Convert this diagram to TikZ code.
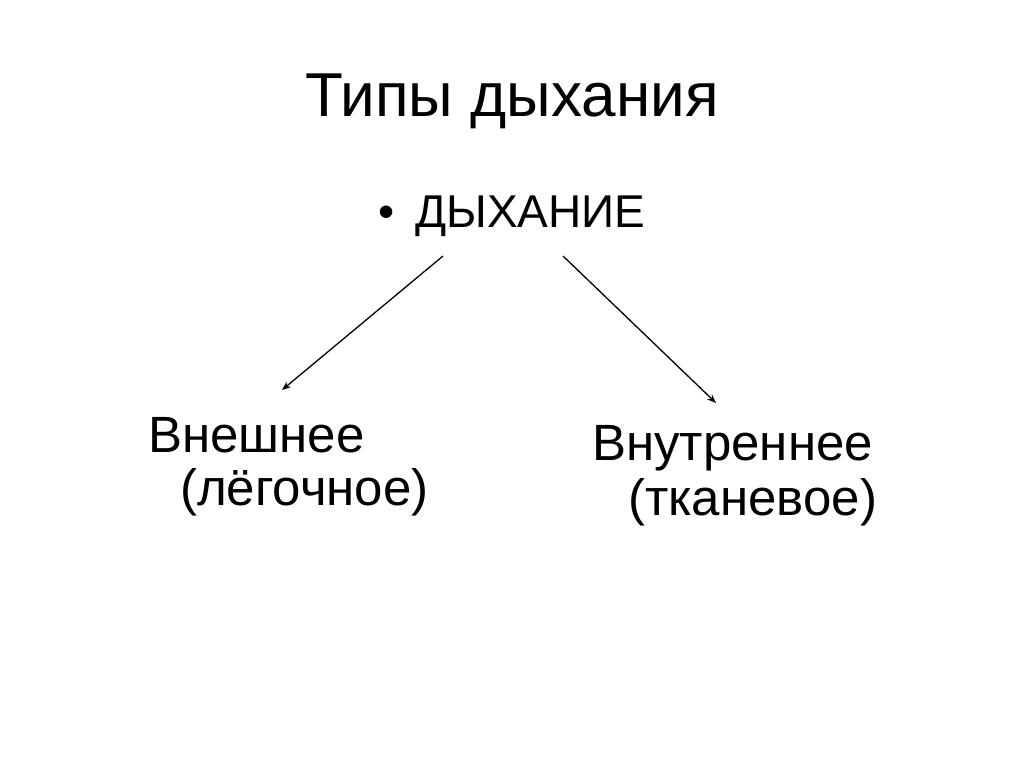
\documentclass[tikz,border=0pt]{standalone}
\usepackage{fontspec}
\setmainfont{Liberation Sans}
\usetikzlibrary{arrows.meta}
\begin{document}
\begin{tikzpicture}[x=1pt,y=-1pt,
  txt/.style={anchor=base west,inner sep=0pt,font=\fontsize{51}{60}\selectfont},
  arr/.style={-{Stealth[length=9pt,width=7pt]},line width=1.3pt}]
\useasboundingbox (0,0) rectangle (1024,767);
\node[anchor=base,inner sep=0pt,font=\fontsize{62}{72}\selectfont] (title) at (512,117) {Типы дыхания};
\node[txt,font=\fontsize{46}{55}\selectfont] (bul) at (378,228) {•};
\node[txt,font=\fontsize{46}{55}\selectfont] (root) at (415,228) {ДЫХАНИЕ};
\node[txt] (l1) at (148,452) {Внешнее};
\node[txt] (l2) at (180,505) {(лёгочное)};
\node[txt] (r1) at (592,460) {Внутреннее};
\node[txt] (r2) at (628,515) {(тканевое)};
\coordinate (a1) at (443,256); \coordinate (a2) at (282,390);
\coordinate (b1) at (563,256); \coordinate (b2) at (716,403);
\draw[arr] (a1) -- (a2);
\draw[arr] (b1) -- (b2);
\end{tikzpicture}
\end{document}
